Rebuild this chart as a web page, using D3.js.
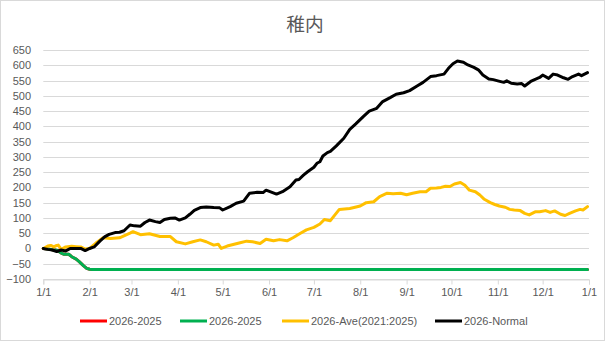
<!DOCTYPE html>
<html>
<head>
<meta charset="utf-8">
<script src="https://cdn.jsdelivr.net/npm/d3@7"></script>
<style>
  html, body { margin: 0; padding: 0; background: #fff; }
  svg { display: block; }
</style>
</head>
<body>
<svg id="chart" width="605" height="341"></svg>
<script>
// ---- data ----
const title = "稚内";
const yTicks = [-100, -50, 0, 50, 100, 150, 200, 250, 300, 350, 400, 450, 500, 550, 600, 650];
const monthDays = [0, 31, 59, 90, 120, 151, 181, 212, 243, 273, 304, 334, 365];
const monthLabels = ["1/1","2/1","3/1","4/1","5/1","6/1","7/1","8/1","9/1","10/1","11/1","12/1","1/1"];
const seriesNames = ["2026-2025", "2026-2025", "2026-Ave(2021:2025)", "2026-Normal"];
const seriesColors = ["#ff0000", "#00b050", "#ffc000", "#000000"];

// [day of year, value]
const redData = [[0,0],[3,-2],[6,-4],[8,-5],[10,-8],[12,-15],[14,-19],[17,-19],[19,-27],[22,-35],[24,-43],[27,-57],[29,-65],[31,-68],[33,-69],[364,-69]];
const greenData = [[0,0],[3,-2],[6,-4],[8,-5],[10,-8],[12,-15],[14,-19],[17,-19],[19,-27],[22,-35],[24,-43],[27,-57],[29,-65],[31,-68],[33,-69],[364,-69]];
const aveData = [[0,0],[3,8],[5,10],[7,5],[9,10],[10,11],[12,-3],[15,5],[19,7],[22,6],[25,5],[28,-2],[31,0],[35,17],[40,35],[45,33],[51,35],[58,50],[60,55],[65,45],[71,48],[78,39],[85,39],[89,22],[95,15],[100,22],[105,28],[109,22],[114,11],[117,14],[119,0],[123,8],[127,13],[131,18],[136,24],[140,22],[145,16],[149,30],[154,25],[158,29],[163,25],[167,35],[172,50],[176,61],[181,69],[185,80],[188,95],[192,91],[198,128],[205,131],[212,139],[216,150],[221,153],[225,170],[230,181],[234,179],[239,181],[243,176],[247,181],[252,186],[256,186],[259,197],[263,198],[266,200],[269,204],[272,203],[275,211],[279,216],[282,207],[285,191],[289,186],[292,175],[295,161],[299,150],[302,144],[305,139],[309,135],[312,128],[315,126],[319,124],[322,115],[325,110],[329,120],[332,120],[336,124],[339,118],[342,123],[346,112],[349,108],[352,115],[356,123],[359,128],[361,126],[364,137]];
const normalData = [[0,0],[3,-3],[6,-5],[9,-10],[12,-5],[15,-8],[18,0],[22,0],[25,0],[28,-7],[31,0],[34,5],[38,25],[41,38],[44,46],[48,52],[51,53],[54,58],[58,77],[61,74],[65,73],[68,85],[71,93],[75,88],[78,85],[81,95],[85,99],[88,100],[91,93],[95,100],[98,112],[101,125],[105,134],[109,136],[114,134],[118,133],[120,126],[125,137],[129,148],[134,155],[138,181],[143,184],[147,183],[149,191],[156,178],[160,186],[165,202],[169,224],[171,226],[174,240],[177,252],[181,266],[183,279],[185,284],[187,303],[190,314],[192,318],[196,336],[201,361],[205,390],[209,408],[214,432],[218,450],[223,459],[227,481],[232,494],[236,505],[241,510],[245,517],[250,532],[254,544],[259,563],[263,566],[268,571],[271,590],[274,605],[277,614],[281,610],[284,601],[288,593],[291,585],[294,568],[298,555],[301,553],[304,549],[308,544],[310,549],[313,541],[317,539],[320,540],[322,532],[326,547],[329,554],[332,560],[334,568],[338,557],[341,571],[344,568],[348,559],[351,554],[354,563],[358,571],[360,566],[364,576]];

const allSeries = [redData, greenData, aveData, normalData];

// ---- drawing ----
const svg = d3.select("#chart");
const W = 605, H = 341;
const font = "'Liberation Sans', Arial, sans-serif";
const textColor = "#595959";

svg.append("rect").attr("x", 0.5).attr("y", 0.5).attr("width", W - 1).attr("height", H - 1)
  .attr("fill", "#fff").attr("stroke", "#d9d9d9");

const x = d3.scaleLinear().domain([0, 365]).range([43.3, 589]);
const y = d3.scaleLinear().domain([-100, 650]).range([279, 50]);

// gridlines
svg.append("g").selectAll("line").data(yTicks).join("line")
  .attr("x1", x(0)).attr("x2", x(365))
  .attr("y1", d => Math.round(y(d)) + 0.5).attr("y2", d => Math.round(y(d)) + 0.5)
  .attr("stroke", "#d9d9d9").attr("stroke-width", 1);

// y axis labels
const yAxis = d3.axisLeft(y).tickValues(yTicks).tickSize(0).tickPadding(0).tickFormat(d3.format("d"));
const gy = svg.append("g").attr("transform", "translate(31,0)").call(yAxis);
gy.select(".domain").remove();
gy.selectAll("text").attr("fill", textColor).style("font-family", font).style("font-size", "11px");

// x axis
const xAxis = d3.axisBottom(x).tickValues(monthDays).tickSize(5).tickPadding(4)
  .tickFormat((d, i) => monthLabels[i]);
const gx = svg.append("g").attr("transform", `translate(0,${Math.round(y(-100)) + 0.5})`).call(xAxis);
gx.select(".domain").attr("stroke", "#d9d9d9");
gx.selectAll(".tick line").attr("stroke", "#d9d9d9");
gx.selectAll("text").attr("fill", textColor).style("font-family", font).style("font-size", "11px");

// lines
const line = d3.line().x(d => x(d[0])).y(d => y(d[1])).curve(d3.curveLinear);
svg.append("g").selectAll("path").data(allSeries).join("path")
  .attr("d", line)
  .attr("fill", "none")
  .attr("stroke", (d, i) => seriesColors[i])
  .attr("stroke-width", 3)
  .attr("stroke-linejoin", "round")
  .attr("stroke-linecap", "round");

// title
svg.append("text").attr("x", 305).attr("y", 22.5)
  .attr("text-anchor", "middle").attr("dominant-baseline", "central")
  .attr("fill", textColor)
  .style("font-family", "'Noto Sans CJK JP', sans-serif").style("font-size", "18.7px")
  .text(title);

// legend
const legendX = [80, 180, 282, 435];
const lg = svg.append("g").selectAll("g").data(seriesNames).join("g")
  .attr("transform", (d, i) => `translate(${legendX[i]},321)`);
lg.append("line").attr("x1", 0).attr("x2", 27).attr("y1", 0).attr("y2", 0)
  .attr("stroke", (d, i) => seriesColors[i]).attr("stroke-width", 3);
lg.append("text").attr("x", 29).attr("y", 0).attr("dominant-baseline", "central")
  .attr("fill", textColor).style("font-family", font).style("font-size", "11px")
  .text(d => d);
</script>
</body>
</html>
